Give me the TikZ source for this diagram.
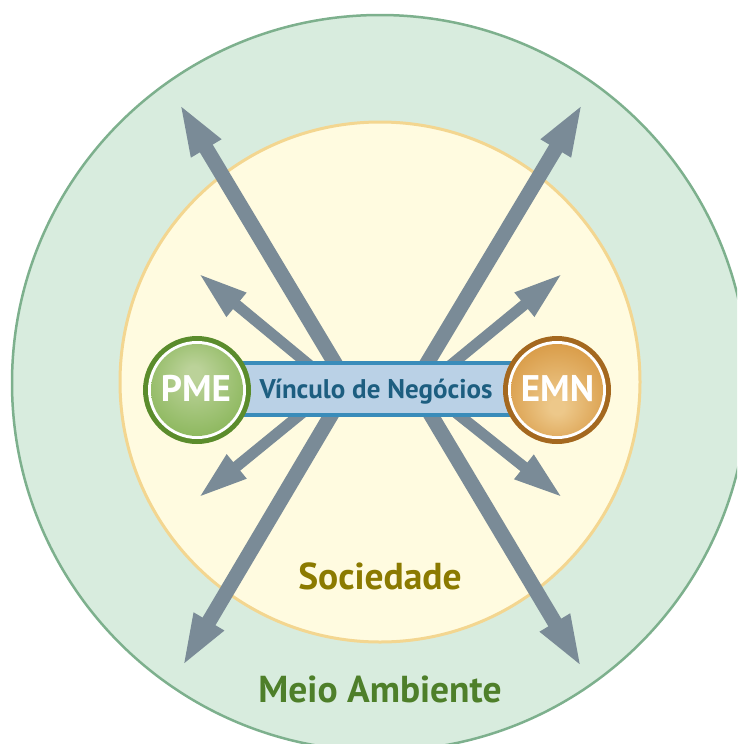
\documentclass[tikz,border=0pt]{standalone}
\usepackage{fontspec}
\setmainfont{PT Sans}
\usetikzlibrary{arrows.meta}
\definecolor{outerfill}{HTML}{D8ECDE}
\definecolor{outerline}{HTML}{7DB08D}
\definecolor{innerfill}{HTML}{FFFBE0}
\definecolor{innerline}{HTML}{F3D690}
\definecolor{arrowgrey}{HTML}{7A8B97}
\definecolor{barfill}{HTML}{BAD1E6}
\definecolor{barline}{HTML}{3A8CBA}
\definecolor{bartext}{HTML}{1D5E80}
\definecolor{pmering}{HTML}{5B8C2C}
\definecolor{pmelight}{HTML}{BBD299}
\definecolor{pmemid}{HTML}{8DB85E}
\definecolor{pmedark}{HTML}{66993A}
\definecolor{emnring}{HTML}{A4681F}
\definecolor{emnlight}{HTML}{EDC88A}
\definecolor{emnmid}{HTML}{D99C48}
\definecolor{emndark}{HTML}{C17F26}
\definecolor{soctext}{HTML}{8B7A00}
\definecolor{meiotext}{HTML}{4E7F2A}
\pgfdeclareradialshading{pmeshade}{\pgfpoint{-2bp}{10bp}}{color(0bp)=(pmelight); color(4bp)=(pmelight); color(30bp)=(pmemid); color(50bp)=(pmedark)}
\pgfdeclareradialshading{emnshade}{\pgfpoint{0bp}{-10bp}}{color(0bp)=(emnlight); color(4bp)=(emnlight); color(30bp)=(emnmid); color(50bp)=(emndark)}
\begin{document}
\begin{tikzpicture}[x=1pt,y=-1pt,
  longarrow/.style={draw=arrowgrey, line width=15pt, -{Triangle[length=53pt,width=31pt]}},
  shortarrow/.style={draw=arrowgrey, line width=11pt, -{Triangle[length=50pt,width=28pt]}},
  circlabel/.style={font=\fontsize{37}{42}\selectfont\bfseries, text=white, anchor=base, inner sep=0pt},
  ringlabel/.style={font=\fontsize{37.5}{42}\selectfont\bfseries, anchor=base, inner sep=0pt}]
\useasboundingbox (0,0) rectangle (737,744);
\clip (0,0) rectangle (737,744);
% environment circles
\node[circle, minimum size=736pt, fill=outerfill, draw=outerline, line width=2.5pt, inner sep=0pt] (meio) at (380,383) {};
\node[circle, minimum size=520pt, fill=innerfill, draw=innerline, line width=3pt, inner sep=0pt] (soc) at (380,382) {};
\node[ringlabel, text=soctext] (soclabel) at (380,589) {Sociedade};
\node[ringlabel, text=meiotext] (meiolabel) at (380,702) {Meio Ambiente};
% arrow anchors
\coordinate (ulS) at (351,390);
\coordinate (ulT) at (179,103);
\coordinate (urS) at (411,390);
\coordinate (urT) at (583,103);
\coordinate (llS) at (346,390);
\coordinate (llT) at (182,667);
\coordinate (lrS) at (416,390);
\coordinate (lrT) at (582,668);
\coordinate (sulS) at (325,378);
\coordinate (sulT) at (198,273);
\coordinate (surS) at (435,378);
\coordinate (surT) at (563,273);
\coordinate (sllS) at (318,400);
\coordinate (sllT) at (198,498);
\coordinate (slrS) at (440,400);
\coordinate (slrT) at (563,498);
\draw[longarrow] (ulS) -- (ulT);
\draw[longarrow] (urS) -- (urT);
\draw[longarrow] (llS) -- (llT);
\draw[longarrow] (lrS) -- (lrT);
\draw[shortarrow] (sulS) -- (sulT);
\draw[shortarrow] (surS) -- (surT);
\draw[shortarrow] (sllS) -- (sllT);
\draw[shortarrow] (slrS) -- (slrT);
% link bar
\node[draw=barline, fill=barfill, line width=4pt, minimum width=300pt, minimum height=52pt, inner sep=0pt] (bar) at (380,389) {};
\node[font=\fontsize{27}{32}\selectfont\bfseries, text=bartext, anchor=base, inner sep=0pt] (bartxt) at (376,398) {Vínculo de Negócios};
% PME
\node[circle, fill=pmering, minimum size=108pt, inner sep=0pt] (pme) at (197,390) {};
\node[circle, fill=white, minimum size=98pt, inner sep=0pt] (pmew) at (pme) {};
\node[circle, shading=pmeshade, minimum size=92pt, inner sep=0pt] (pmei) at (pme) {};
\node[circlabel] (pmetxt) at (196,401) {PME};
% EMN
\node[circle, fill=emnring, minimum size=108pt, inner sep=0pt] (emn) at (557,390) {};
\node[circle, fill=white, minimum size=98pt, inner sep=0pt] (emnw) at (emn) {};
\node[circle, shading=emnshade, minimum size=92pt, inner sep=0pt] (emni) at (emn) {};
\node[circlabel] (emntxt) at (557.5,401) {EMN};
\end{tikzpicture}
\end{document}
